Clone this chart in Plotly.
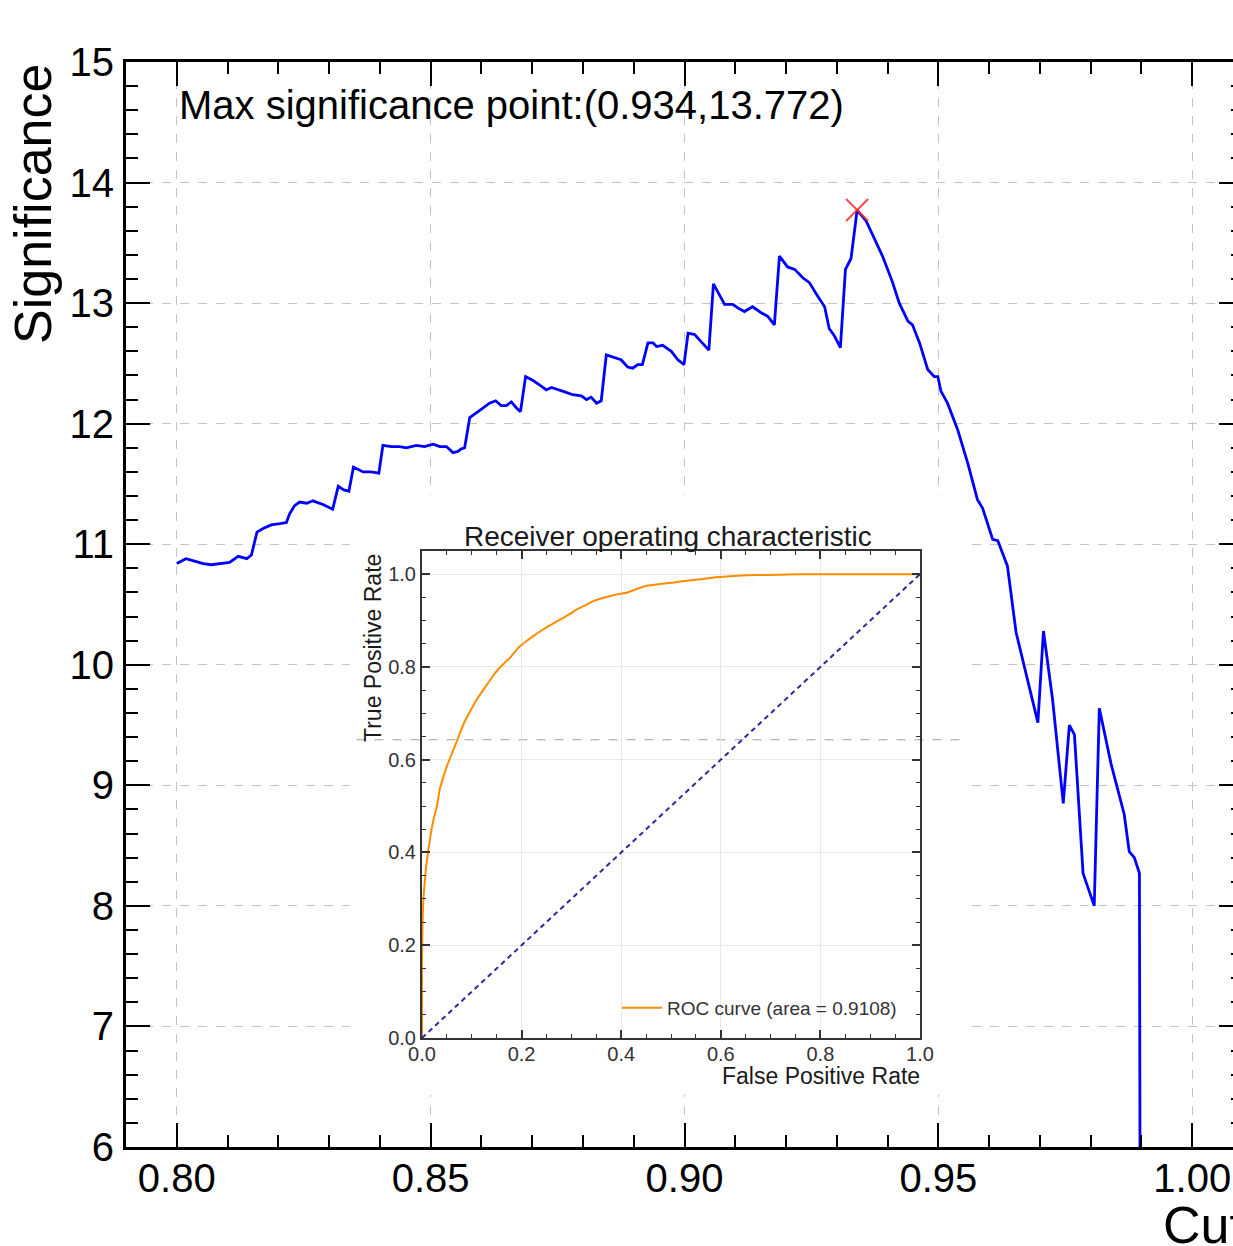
import plotly.graph_objects as go

# ---------------- data ----------------
cut = [0.8000, 0.8018, 0.8035, 0.8052, 0.8068, 0.8085, 0.8104, 0.8121, 0.8138, 0.8147,
       0.8158, 0.8170, 0.8186, 0.8203, 0.8216, 0.8222, 0.8232, 0.8242, 0.8256, 0.8268,
       0.8288, 0.8307, 0.8318, 0.8329, 0.8339, 0.8348, 0.8367, 0.8383, 0.8398, 0.8406,
       0.8423, 0.8439, 0.8452, 0.8472, 0.8488, 0.8505, 0.8518, 0.8531, 0.8544, 0.8554,
       0.8560, 0.8567, 0.8577, 0.8590, 0.8603, 0.8616, 0.8628, 0.8639, 0.8649, 0.8659,
       0.8669, 0.8677, 0.8687, 0.8701, 0.8715, 0.8728, 0.8738, 0.8754, 0.8767, 0.8780,
       0.8797, 0.8807, 0.8816, 0.8827, 0.8836, 0.8846, 0.8859, 0.8875, 0.8888, 0.8898,
       0.8908, 0.8917, 0.8928, 0.8938, 0.8945, 0.8957, 0.8974, 0.8987, 0.8999, 0.9007,
       0.9020, 0.9033, 0.9048, 0.9057, 0.9068, 0.9079, 0.9095, 0.9105, 0.9118, 0.9134,
       0.9151, 0.9164, 0.9177, 0.9187, 0.9203, 0.9217, 0.9233, 0.9246, 0.9259, 0.9276,
       0.9285, 0.9295, 0.9307, 0.9317, 0.9328, 0.9340, 0.9358, 0.9377, 0.9390, 0.9410,
       0.9423, 0.9440, 0.9449, 0.9463, 0.9479, 0.9492, 0.9499, 0.9505, 0.9518, 0.9538,
       0.9558, 0.9577, 0.9587, 0.9607, 0.9617, 0.9636, 0.9653, 0.9696, 0.9707, 0.9725,
       0.9746, 0.9758, 0.9768, 0.9785, 0.9807, 0.9817, 0.9840, 0.9866, 0.9876, 0.9886,
       0.9896, 0.9900]
significance = [10.84, 10.88, 10.86, 10.84, 10.83, 10.84, 10.85, 10.90, 10.88, 10.91,
                11.10, 11.13, 11.16, 11.17, 11.18, 11.25, 11.32, 11.35, 11.34, 11.36,
                11.33, 11.29, 11.48, 11.45, 11.44, 11.64, 11.60, 11.60, 11.59, 11.82,
                11.81, 11.81, 11.80, 11.82, 11.81, 11.83, 11.81, 11.81, 11.76, 11.77,
                11.79, 11.80, 12.05, 12.09, 12.13, 12.17, 12.19, 12.15, 12.15, 12.18,
                12.13, 12.10, 12.39, 12.36, 12.32, 12.28, 12.30, 12.28, 12.26, 12.24,
                12.23, 12.20, 12.22, 12.17, 12.19, 12.57, 12.55, 12.53, 12.47, 12.46,
                12.49, 12.49, 12.67, 12.67, 12.64, 12.65, 12.60, 12.53, 12.49, 12.75,
                12.74, 12.68, 12.61, 13.16, 13.07, 12.99, 12.99, 12.96, 12.93, 12.97,
                12.92, 12.89, 12.82, 13.39, 13.30, 13.28, 13.21, 13.17, 13.08, 12.97,
                12.79, 12.73, 12.63, 13.28, 13.37, 13.772, 13.68, 13.50, 13.39, 13.17,
                13.00, 12.85, 12.82, 12.67, 12.45, 12.39, 12.39, 12.27, 12.17, 11.95,
                11.67, 11.37, 11.30, 11.04, 11.03, 10.82, 10.27, 9.52, 10.28, 9.71,
                8.85, 9.50, 9.42, 8.27, 8.00, 9.64, 9.18, 8.76, 8.45, 8.40,
                8.27, 0.0]
peak_cut = 0.934
peak_sig = 13.772

fpr = [0.000, 0.000, 0.001, 0.002, 0.004, 0.006, 0.008, 0.011, 0.015, 0.019, 0.024,
       0.030, 0.036, 0.043, 0.050, 0.058, 0.066, 0.076, 0.086, 0.098, 0.110, 0.122,
       0.133, 0.143, 0.153, 0.165, 0.177, 0.187, 0.197, 0.210, 0.224, 0.239, 0.254,
       0.269, 0.284, 0.298, 0.311, 0.328, 0.344, 0.361, 0.378, 0.394, 0.411, 0.431,
       0.451, 0.478, 0.505, 0.532, 0.558, 0.578, 0.612, 0.640, 0.672, 0.715, 0.759,
       0.850, 1.000]
tpr = [0.000, 0.154, 0.240, 0.284, 0.318, 0.341, 0.367, 0.392, 0.422, 0.449, 0.475,
       0.500, 0.538, 0.563, 0.586, 0.608, 0.629, 0.657, 0.683, 0.707, 0.730, 0.749,
       0.766, 0.781, 0.795, 0.808, 0.820, 0.833, 0.845, 0.856, 0.867, 0.878, 0.888,
       0.897, 0.906, 0.915, 0.924, 0.933, 0.942, 0.948, 0.953, 0.957, 0.960, 0.968,
       0.975, 0.979, 0.982, 0.986, 0.989, 0.992, 0.995, 0.997, 0.998, 0.999, 1.000,
       1.000, 1.000]
roc_auc = 0.9108
chance_x = [0.0, 1.0]
chance_y = [0.0, 1.0]

main_x_ticks = [0.80, 0.85, 0.90, 0.95, 1.00]
main_y_ticks = [6, 7, 8, 9, 10, 11, 12, 13, 14, 15]
roc_ticks = [0.0, 0.2, 0.4, 0.6, 0.8, 1.0]

# ---------------- layout geometry ----------------
W, H = 1290, 1290
L, R, T, B = 126, 47, 62, 143
PW, PH = W - L - R, H - T - B


def pxp(x):
    return (x - L) / PW


def pyp(y):
    return (H - B - y) / PH


FONT = "Liberation Sans, Arial, Helvetica, sans-serif"

fig = go.Figure()

# main curve
fig.add_trace(go.Scatter(x=cut, y=significance, mode="lines",
                         line=dict(color="#0000ff", width=2.8),
                         showlegend=False, xaxis="x", yaxis="y"))
fig.add_trace(go.Scatter(x=[peak_cut], y=[peak_sig], mode="markers",
                         marker=dict(symbol="x-thin", size=22,
                                     line=dict(width=2, color="rgba(255,40,40,0.85)")),
                         showlegend=False, xaxis="x", yaxis="y"))

# inset ROC
fig.add_trace(go.Scatter(x=fpr, y=tpr, mode="lines",
                         line=dict(color="darkorange", width=2, shape="spline", smoothing=0.4),
                         name=f"ROC curve (area = {roc_auc:.4f})",
                         showlegend=True, xaxis="x2", yaxis="y2"))
fig.add_trace(go.Scatter(x=chance_x, y=chance_y, mode="lines",
                         line=dict(color="#2a2a9a", width=2, dash="5px,4px"),
                         showlegend=False, xaxis="x2", yaxis="y2"))

# white backdrop of the inset picture, and its stray dashed line
fig.add_shape(type="rect", xref="x", yref="y", layer="between",
              x0=0.8341, x1=0.9561, y0=6.435, y1=11.41,
              fillcolor="white", line=dict(width=0))
fig.add_shape(type="line", xref="x", yref="y", layer="between",
              x0=0.8354, x1=0.9555, y0=9.378, y1=9.378,
              line=dict(color="#a0a0a0", width=1, dash="dash"))

main_axis_common = dict(
    ticks="inside", ticklen=24, tickwidth=2, tickcolor="black",
    showline=True, linewidth=3, linecolor="black", mirror="allticks",
    showgrid=True, gridcolor="#c4c4c4", griddash="dash", gridwidth=1,
    zeroline=False, tickfont=dict(size=40, color="black", family=FONT),
)
inset_axis_common = dict(
    ticks="inside", ticklen=8, tickwidth=1.5, tickcolor="#333333",
    showline=True, linewidth=2, linecolor="#333333", mirror="allticks",
    showgrid=True, gridcolor="#e8e8e8", gridwidth=1, zeroline=False,
    tickfont=dict(size=20, color="#333333", family=FONT),
    tickmode="array", tickvals=roc_ticks, ticktext=[f"{v:.1f}" for v in roc_ticks],
)

fig.update_layout(
    width=W, height=H,
    margin=dict(l=L, r=R, t=T, b=B, pad=0),
    paper_bgcolor="white", plot_bgcolor="rgba(0,0,0,0)",
    font=dict(family=FONT, color="black"),
    xaxis=dict(domain=[0, 1], anchor="y", range=[0.79, 1.01],
               tickmode="array", tickvals=main_x_ticks,
               ticktext=[f"{v:.2f}" for v in main_x_ticks],
               minor=dict(dtick=0.01, tick0=0.80, ticks="inside", ticklen=12,
                          tickwidth=1.5, tickcolor="black", showgrid=False),
               ticklabelstandoff=-6,
               **main_axis_common),
    yaxis=dict(domain=[0, 1], anchor="x", range=[6, 15],
               tickmode="array", tickvals=main_y_ticks,
               ticktext=[str(v) for v in main_y_ticks],
               minor=dict(dtick=0.2, tick0=6, ticks="inside", ticklen=12,
                          tickwidth=1.5, tickcolor="black", showgrid=False),
               ticklabelstandoff=1,
               **main_axis_common),
    xaxis2=dict(domain=[pxp(422), pxp(920)], anchor="y2", range=[0, 1],
                minor=dict(dtick=0.05, tick0=0, ticks="inside", ticklen=4,
                           tickwidth=1, tickcolor="#333333", showgrid=False),
                ticklabelstandoff=-3,
                **inset_axis_common),
    yaxis2=dict(domain=[pyp(1038), pyp(551)], anchor="x2", range=[0, 1.05],
                minor=dict(dtick=0.05, tick0=0, ticks="inside", ticklen=4,
                           tickwidth=1, tickcolor="#333333", showgrid=False),
                **inset_axis_common),
    legend=dict(x=pxp(617), y=pyp(1008), xanchor="left", yanchor="middle",
                itemwidth=40,
                bgcolor="rgba(0,0,0,0)", borderwidth=0,
                font=dict(size=19, color="#333333", family=FONT)),
    showlegend=True,
)

annotations = [
    dict(text=f"Max significance point:({peak_cut},{peak_sig})", xref="x", yref="y",
         x=0.80, y=14.643, xanchor="left", yanchor="middle", showarrow=False,
         font=dict(size=40, color="black", family=FONT)),
    dict(text="Significance", xref="paper", yref="paper", x=pxp(33), y=pyp(204),
         xanchor="center", yanchor="middle", textangle=-90, showarrow=False,
         font=dict(size=52, color="black", family=FONT)),
    dict(text="Cut", xref="paper", yref="paper", x=pxp(1203), y=pyp(1225),
         xanchor="center", yanchor="middle", showarrow=False,
         font=dict(size=52, color="black", family=FONT)),
    dict(text="Receiver operating characteristic", xref="paper", yref="paper",
         x=pxp(668), y=pyp(536), xanchor="center", yanchor="middle", showarrow=False,
         font=dict(size=28, color="#1a1a1a", family=FONT)),
    dict(text="False Positive Rate", xref="paper", yref="paper",
         x=pxp(922), y=pyp(1076), xanchor="right", yanchor="middle", showarrow=False,
         font=dict(size=23, color="#1a1a1a", family=FONT)),
    dict(text="True Positive Rate", xref="paper", yref="paper",
         x=pxp(373), y=pyp(648), xanchor="center", yanchor="middle", textangle=-90,
         showarrow=False, font=dict(size=23, color="#1a1a1a", family=FONT)),
]
fig.update_layout(annotations=annotations)

fig.write_html(
    "out.html",
    config={"displayModeBar": False},
    post_script="document.body.style.margin='0';document.body.style.overflow='hidden';",
)
